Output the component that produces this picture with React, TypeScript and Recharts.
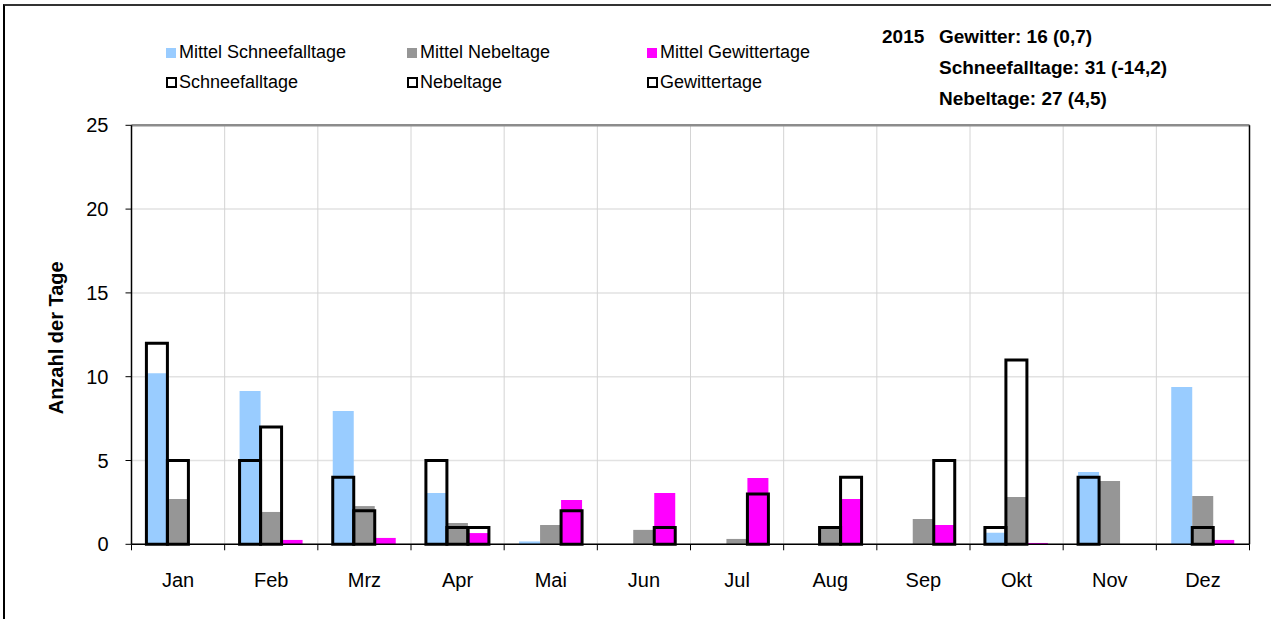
import React from 'react';
import { ComposedChart, Bar, XAxis, YAxis, CartesianGrid, ReferenceLine, Legend } from 'recharts';

const months = ['Jan', 'Feb', 'Mrz', 'Apr', 'Mai', 'Jun', 'Jul', 'Aug', 'Sep', 'Okt', 'Nov', 'Dez'];
const meanSnow = [10.2, 9.15, 7.95, 3.06, 0.17, 0, 0, 0, 0, 0.69, 4.31, 9.39];
const meanFog = [2.7, 1.93, 2.28, 1.27, 1.15, 0.86, 0.32, 0.98, 1.51, 2.82, 3.78, 2.88];
const meanThunder = [0, 0.26, 0.38, 0.67, 2.65, 3.06, 3.96, 2.7, 1.15, 0.08, 0, 0.26];
const snow2015 = [12, 5, 4, 5, 0, 0, 0, 0, 0, 1, 4, 0];
const fog2015 = [5, 7, 2, 1, 0, 0, 0, 1, 0, 11, 0, 1];
const thunder2015 = [0, 0, 0, 1, 2, 1, 3, 4, 5, 0, 0, 0];
const yTicks = [0, 5, 10, 15, 20, 25];
const annotationLines = ['Gewitter: 16 (0,7)', 'Schneefalltage: 31 (-14,2)', 'Nebeltage: 27 (4,5)'];
const annotationYear = '2015';

const data = months.map((m, i) => ({
  month: m,
  meanSnow: meanSnow[i],
  meanFog: meanFog[i],
  meanThunder: meanThunder[i],
  snow: snow2015[i],
  fog: fog2015[i],
  thunder: thunder2015[i],
}));

const COLORS = { snow: '#99CCFF', fog: '#969696', thunder: '#FF00FF' };
const FONT = '"Liberation Sans", Arial, sans-serif';

const legendItems = [
  { label: 'Mittel Schneefalltage', color: COLORS.snow, filled: true, col: 0, row: 0 },
  { label: 'Mittel Nebeltage', color: COLORS.fog, filled: true, col: 1, row: 0 },
  { label: 'Mittel Gewittertage', color: COLORS.thunder, filled: true, col: 2, row: 0 },
  { label: 'Schneefalltage', color: '#000', filled: false, col: 0, row: 1 },
  { label: 'Nebeltage', color: '#000', filled: false, col: 1, row: 1 },
  { label: 'Gewittertage', color: '#000', filled: false, col: 2, row: 1 },
];
const colX = [166, 407, 647];
const rowTop = [43, 73];

const LegendContent = () => (
  <div style={{ position: 'relative', width: 1271, height: 110, fontFamily: FONT }}>
    {legendItems.map((it) => (
      <div
        key={it.label}
        style={{
          position: 'absolute',
          left: colX[it.col],
          top: rowTop[it.row],
          display: 'flex',
          alignItems: 'center',
          fontSize: 18,
          lineHeight: '18px',
          color: '#000',
          whiteSpace: 'nowrap',
        }}
      >
        {it.filled ? (
          <span style={{ display: 'inline-block', width: 10, height: 10, background: it.color, marginRight: 3, marginTop: 1 }} />
        ) : (
          <span style={{ display: 'inline-block', width: 7, height: 7, border: '2.5px solid #000', marginRight: 2, marginTop: 1 }} />
        )}
        <span style={{ letterSpacing: 0 }}>{it.label}</span>
      </div>
    ))}
  </div>
);

const MonthTick = (props: any) => {
  const { x, y, payload, index, width } = props;
  const off = typeof payload?.offset === 'number' && payload.offset > 0 ? payload.offset : width / 24;
  const axisY = y - 28;
  return (
    <g>
      <line x1={x - off} x2={x - off} y1={axisY} y2={axisY + 6} stroke="#000" strokeWidth={1} />
      {index === months.length - 1 && (
        <line x1={x + off} x2={x + off} y1={axisY} y2={axisY + 6} stroke="#000" strokeWidth={1} />
      )}
      <text x={x} y={y} dy="0.71em" textAnchor="middle" fontSize={20} fontFamily={FONT} fill="#000">
        {payload.value}
      </text>
    </g>
  );
};

const YTitle = (props: any) => {
  const vb = props.viewBox || { x: 31.5, y: 125, height: 420 };
  const cx = vb.x + 31.5;
  const cy = vb.y + vb.height / 2 + 3;
  return (
    <text
      x={cx}
      y={cy}
      transform={`rotate(-90 ${cx} ${cy})`}
      textAnchor="middle"
      fontSize={20}
      fontWeight="bold"
      fontFamily={FONT}
      fill="#000"
    >
      Anzahl der Tage
    </text>
  );
};

export default function App() {
  return (
    <div style={{ position: 'absolute', left: 0, top: 0, width: 1271, height: 619, background: '#fff', fontFamily: FONT }}>
      <div
        style={{
          position: 'absolute',
          left: 3,
          top: 4,
          width: 1270,
          height: 617,
          borderLeft: '2px solid #000',
          borderTop: '2px solid #333',
          boxSizing: 'border-box',
        }}
      />
      <ComposedChart
        width={1271}
        height={619}
        data={data}
        margin={{ top: 125.3, right: 21.5, bottom: 44.7, left: 31.5 }}
        barCategoryGap="16%"
        barGap={0}
        style={{ position: 'absolute', left: 0, top: 0 }}
      >
        <CartesianGrid xAxisId="a" yAxisId="l" vertical={false} stroke="#e2e2e2" strokeWidth={1.5} />
        <CartesianGrid
          xAxisId="a"
          yAxisId="l"
          horizontal={false}
          stroke="#d4d4d4"
          strokeWidth={1}
          verticalCoordinatesGenerator={({ offset }: any) =>
            months.slice(1).map((_, i) => offset.left + ((i + 1) * offset.width) / months.length)
          }
        />
        <XAxis
          xAxisId="a"
          dataKey="month"
          height={30}
          axisLine={{ stroke: '#000', strokeWidth: 1.5 }}
          tickLine={false}
          tickSize={6}
          tickMargin={22}
          tick={<MonthTick />}
          interval={0}
        />
        <XAxis xAxisId="b" dataKey="month" hide />
        <YAxis
          yAxisId="l"
          width={100}
          domain={[0, 25]}
          ticks={yTicks}
          interval={0}
          axisLine={{ stroke: '#000', strokeWidth: 1.5 }}
          tickLine={{ stroke: '#000' }}
          tickSize={6}
          tickMargin={17}
          tick={{ fontSize: 20, fill: '#000', fontFamily: FONT }}
          label={<YTitle />}
        />
        <YAxis
          yAxisId="r"
          orientation="right"
          mirror
          width={1}
          domain={[0, 25]}
          ticks={yTicks}
          interval={0}
          tick={false}
          tickSize={6}
          axisLine={{ stroke: '#000', strokeWidth: 1.5 }}
          tickLine={{ stroke: '#333' }}
        />
        <ReferenceLine xAxisId="a" yAxisId="l" y={25} stroke="#8c8c8c" strokeWidth={2.5} />
        <Legend
          verticalAlign="middle"
          align="center"
          layout="horizontal"
          content={<LegendContent />}
          wrapperStyle={{ top: 0, left: 0, width: 1271, height: 110 }}
        />
        <Bar xAxisId="a" yAxisId="l" dataKey="meanSnow" name="Mittel Schneefalltage" fill={COLORS.snow} isAnimationActive={false} />
        <Bar xAxisId="a" yAxisId="l" dataKey="meanFog" name="Mittel Nebeltage" fill={COLORS.fog} isAnimationActive={false} />
        <Bar xAxisId="a" yAxisId="l" dataKey="meanThunder" name="Mittel Gewittertage" fill={COLORS.thunder} isAnimationActive={false} />
        <Bar xAxisId="b" yAxisId="l" dataKey="snow" name="Schneefalltage" fill="none" stroke="#000" strokeWidth={3} isAnimationActive={false} />
        <Bar xAxisId="b" yAxisId="l" dataKey="fog" name="Nebeltage" fill="none" stroke="#000" strokeWidth={3} isAnimationActive={false} />
        <Bar xAxisId="b" yAxisId="l" dataKey="thunder" name="Gewittertage" fill="none" stroke="#000" strokeWidth={3} isAnimationActive={false} />
      </ComposedChart>
      <div style={{ position: 'absolute', left: 882, top: 27, fontSize: 19, fontWeight: 'bold', lineHeight: '19px', whiteSpace: 'nowrap' }}>
        {annotationYear}
      </div>
      {annotationLines.map((t, i) => (
        <div
          key={t}
          style={{
            position: 'absolute',
            left: 939,
            top: 27 + i * 31,
            fontSize: 19,
            fontWeight: 'bold',
            lineHeight: '19px',
            whiteSpace: 'nowrap',
          }}
        >
          {t}
        </div>
      ))}
    </div>
  );
}
